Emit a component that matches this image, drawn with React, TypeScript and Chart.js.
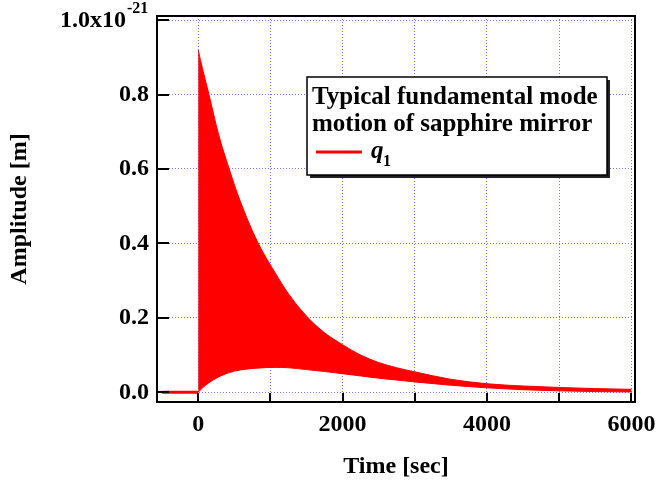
import React, { useEffect, useRef } from 'react';
import { Chart, registerables } from 'chart.js';

Chart.register(...registerables);

// Time axis samples [sec]
const timeSec = [0, 60, 150, 280, 430, 580, 820, 1070, 1250, 1500, 1750, 2000, 2250, 2500, 2750, 3000, 3500, 4000, 4500, 5000, 5500, 6000];
// Upper and lower envelope of the oscillation q1 [x1e-21 m]
const upperEnvelope = [0.92, 0.87, 0.80, 0.695, 0.60, 0.515, 0.405, 0.32, 0.265, 0.205, 0.160, 0.128, 0.100, 0.080, 0.066, 0.055, 0.035, 0.023, 0.017, 0.013, 0.010, 0.008];
const lowerEnvelope = [0.0, 0.012, 0.026, 0.041, 0.053, 0.060, 0.065, 0.067, 0.066, 0.061, 0.056, 0.050, 0.044, 0.038, 0.033, 0.028, 0.019, 0.012, 0.007, 0.004, 0.002, 0.001];
// Rest before excitation
const restTime = [-500, 0];
const restValue = [0, 0];

const xTickValues = [0, 1000, 2000, 3000, 4000, 5000, 6000];
const xLabelValues = [0, 2000, 4000, 6000];
const yTickValues = [0, 0.2, 0.4, 0.6, 0.8, 1.0];
const yTopLabelBase = '1.0x10';
const yTopLabelExp = '-21';

const xTitle = 'Time [sec]';
const yTitle = 'Amplitude [m]';
const legendLines = ['Typical fundamental mode', 'motion of sapphire mirror'];
const seriesSymbol = 'q';
const seriesSubscript = '1';

const SERIF = '"Liberation Serif", "Times New Roman", serif';
const RED = '#ff0000';

const framePlugin = {
  id: 'framePlugin',
  afterDraw(chart: any) {
    const { ctx, chartArea } = chart;
    const xs = chart.scales.x;
    const ys = chart.scales.y;
    ctx.save();
    // inward ticks
    ctx.strokeStyle = '#000';
    ctx.lineWidth = 2;
    ctx.beginPath();
    xTickValues.forEach((v) => {
      const px = Math.round(xs.getPixelForValue(v));
      ctx.moveTo(px, chartArea.bottom);
      ctx.lineTo(px, chartArea.bottom - 9);
    });
    yTickValues.forEach((v) => {
      const py = Math.round(ys.getPixelForValue(v));
      ctx.moveTo(chartArea.left, py);
      ctx.lineTo(chartArea.left + 12, py);
    });
    ctx.stroke();
    // frame
    ctx.lineWidth = 2;
    ctx.strokeRect(chartArea.left, chartArea.top, chartArea.right - chartArea.left, chartArea.bottom - chartArea.top);

    // top y label with exponent
    const topPy = ys.getPixelForValue(1.0);
    ctx.fillStyle = '#000';
    ctx.font = `bold 24px ${SERIF}`;
    ctx.textAlign = 'right';
    ctx.textBaseline = 'alphabetic';
    ctx.fillText(yTopLabelBase, 126, topPy + 7);
    ctx.font = `bold 16px ${SERIF}`;
    ctx.textAlign = 'left';
    ctx.fillText(yTopLabelExp, 127, topPy - 7);

    // legend box
    const bx = 307, by = 77, bw = 300, bh = 98;
    ctx.fillStyle = '#222';
    ctx.fillRect(bx + 3, by + 3, bw, bh);
    ctx.fillStyle = '#fff';
    ctx.fillRect(bx, by, bw, bh);
    ctx.strokeStyle = '#000';
    ctx.lineWidth = 1.5;
    ctx.strokeRect(bx, by, bw, bh);
    ctx.fillStyle = '#000';
    ctx.font = `bold 25px ${SERIF}`;
    ctx.textAlign = 'left';
    ctx.fillText(legendLines[0], 312, 104);
    ctx.fillText(legendLines[1], 312, 131);
    ctx.strokeStyle = RED;
    ctx.lineWidth = 3;
    ctx.beginPath();
    ctx.moveTo(316, 152);
    ctx.lineTo(362, 152);
    ctx.stroke();
    ctx.font = `italic bold 25px ${SERIF}`;
    ctx.fillText(seriesSymbol, 371, 158);
    ctx.font = `bold 16px ${SERIF}`;
    ctx.fillText(seriesSubscript, 383, 166);
    ctx.restore();
  },
};

export default function App() {
  const canvasRef = useRef<HTMLCanvasElement | null>(null);

  useEffect(() => {
    if (!canvasRef.current) return;
    const upper = timeSec.map((t, i) => ({ x: t, y: upperEnvelope[i] }));
    const lower = timeSec.map((t, i) => ({ x: t, y: lowerEnvelope[i] }));
    const rest = restTime.map((t, i) => ({ x: t, y: restValue[i] }));
    const font = { family: SERIF, size: 24, weight: 'bold' as const };

    const chart = new Chart(canvasRef.current, {
      type: 'line',
      data: {
        datasets: [
          {
            label: 'upper',
            data: upper,
            borderColor: RED,
            backgroundColor: RED,
            borderWidth: 1,
            pointRadius: 0,
            fill: '+1',
            cubicInterpolationMode: 'monotone',
          },
          {
            label: 'lower',
            data: lower,
            borderColor: RED,
            backgroundColor: RED,
            borderWidth: 1,
            pointRadius: 0,
            fill: false,
            cubicInterpolationMode: 'monotone',
          },
          {
            label: 'rest',
            data: rest,
            borderColor: RED,
            borderWidth: 3,
            pointRadius: 0,
            fill: false,
          },
        ],
      },
      options: {
        animation: false,
        responsive: false,
        devicePixelRatio: 1,
        layout: { padding: { left: 0, top: 16, right: 21, bottom: 0 } },
        plugins: {
          legend: { display: false },
          tooltip: { enabled: false },
        },
        scales: {
          x: {
            type: 'linear',
            min: -570,
            max: 6050,
            afterBuildTicks: (scale: any) => {
              scale.ticks = xTickValues.map((v) => ({ value: v }));
            },
            afterFit: (scale: any) => {
              scale.height = 85;
              scale.paddingLeft = 0;
              scale.paddingRight = 0;
            },
            ticks: {
              padding: 8,
              color: '#000',
              font,
              maxRotation: 0,
              autoSkip: false,
              callback: (v: any) => (xLabelValues.includes(Number(v)) ? String(v) : ''),
            },
            grid: { color: '#7272ff', lineWidth: 1, drawTicks: false },
            border: { display: false, dash: [1, 2] },
            title: { display: true, text: xTitle, color: '#000', font, padding: { top: 0, bottom: 6 } },
          },
          y: {
            type: 'linear',
            min: -0.026,
            max: 1.011,
            afterBuildTicks: (scale: any) => {
              scale.ticks = yTickValues.map((v) => ({ value: v }));
            },
            afterFit: (scale: any) => {
              scale.width = 157;
              scale.paddingTop = 0;
              scale.paddingBottom = 0;
            },
            ticks: {
              padding: 8,
              color: '#000',
              font,
              autoSkip: false,
              callback: (v: any) => {
                const n = Number(v);
                if (n >= 0.99) return '';
                return n.toFixed(1);
              },
            },
            grid: { color: '#7272ff', lineWidth: 1, drawTicks: false },
            border: { display: false, dash: [1, 2] },
            title: { display: true, text: yTitle, color: '#000', font, padding: { top: 5, bottom: 0 } },
          },
        },
      },
      plugins: [framePlugin],
    });
    return () => chart.destroy();
  }, []);

  return (
    <div style={{ position: 'fixed', left: 0, top: 0, width: 656, height: 487, background: '#fff' }}>
      <canvas ref={canvasRef} width={656} height={487} style={{ display: 'block', width: 656, height: 487 }} />
    </div>
  );
}
